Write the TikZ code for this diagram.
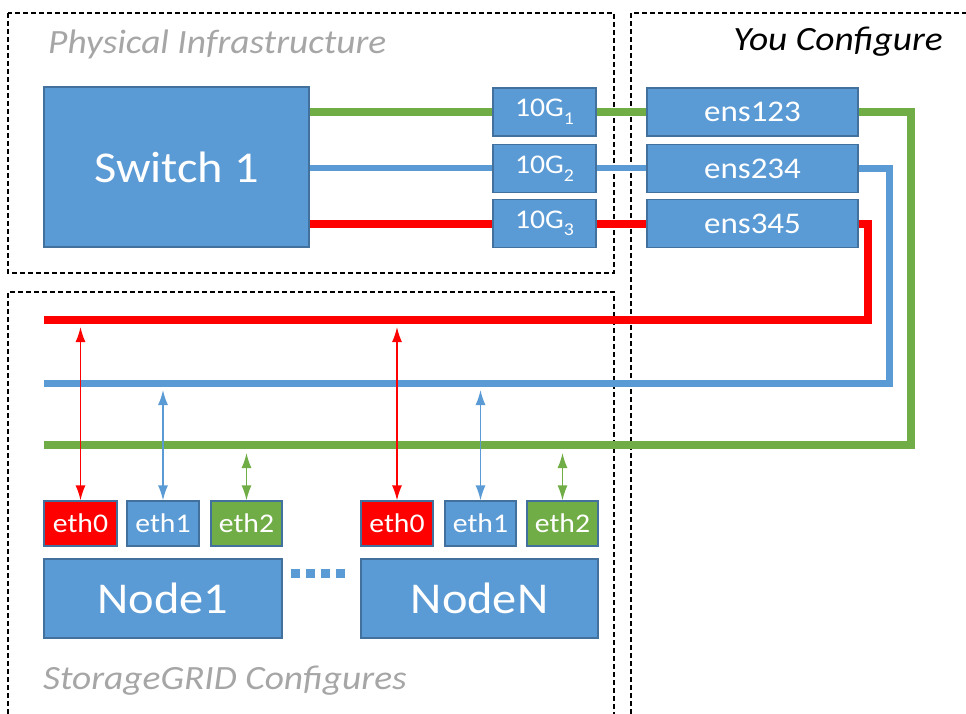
\documentclass[tikz,border=0pt]{standalone}
\usepackage{fontspec}
\setmainfont{Carlito}[FakeStretch=1.1]
\usetikzlibrary{arrows.meta}
\definecolor{boxblue}{HTML}{5B9BD5}
\definecolor{boxedge}{HTML}{41719C}
\definecolor{netgreen}{HTML}{70AD47}
\definecolor{netred}{HTML}{FF0000}
\definecolor{labelgray}{HTML}{A6A6A6}
\newcommand{\fsz}[1]{\fontsize{#1}{#1}\selectfont}
\newcommand{\tenG}[1]{10G\raisebox{-0.28em}{\fsz{18}#1}}
\tikzset{
  box/.style={draw=boxedge, line width=1.2pt, fill=boxblue, text=white, inner sep=0pt, align=center},
  bigbox/.style={box, font=\fsz{44}},
  portbox/.style={box, minimum width=103pt, minimum height=48pt, font=\fsz{27}},
  ensbox/.style={box, minimum width=211pt, minimum height=48pt, font=\fsz{30}},
  ethbox/.style={box, minimum height=45pt, font=\fsz{27}},
  region/.style={draw=black, line width=1.2pt, dash pattern=on 5pt off 3pt},
  gline/.style={draw=netgreen, line width=8pt},
  bline/.style={draw=boxblue, line width=7pt},
  rline/.style={draw=netred, line width=8pt},
  tips/.style={{Latex[length=15pt,width=10pt]}-{Latex[length=15pt,width=10pt]}},
  garrow/.style={draw=netgreen, line width=1.5pt, tips},
  barrow/.style={draw=boxblue, line width=1.5pt, tips},
  rarrow/.style={draw=netred, line width=1.5pt, tips},
  graylabel/.style={text=labelgray, font=\fsz{34}\itshape, inner sep=0pt},
  blacklabel/.style={text=black, font=\fsz{34}\itshape, inner sep=0pt},
}
\begin{document}
\begin{tikzpicture}[x=1pt, y=-1pt]
\useasboundingbox (0,0) rectangle (966,714);
% regions
\draw[region] (8,13) rectangle (614,273);
\draw[region] (8,714) -- (8,292) -- (614,292) -- (614,714);
\draw[region] (631,714) -- (631,13) -- (966,13);
% labels
\node[graylabel, anchor=west] (lphys) at (48,44) {Physical Infrastructure};
\node[blacklabel, anchor=east] (lyou) at (943,42) {You Configure};
\node[graylabel, anchor=west] (lsg) at (43,681) {StorageGRID Configures};
% bus coordinates
\coordinate (gcorner) at (911,445);
\coordinate (gend) at (44,445);
\coordinate (bcorner) at (889,383);
\coordinate (bend) at (44,383);
\coordinate (rcorner) at (868,320);
\coordinate (rend) at (44,320);
% nodes
\node[bigbox, minimum width=265pt, minimum height=160pt] (sw) at (176.5,167) {Switch 1};
\node[portbox] (p1) at (544.5,112) {\tenG{1}};
\node[portbox] (p2) at (544.5,168.5) {\tenG{2}};
\node[portbox] (p3) at (544.5,223.5) {\tenG{3}};
\node[ensbox] (e1) at (752.5,112) {ens123};
\node[ensbox] (e2) at (752.5,168.5) {ens234};
\node[ensbox] (e3) at (752.5,223.5) {ens345};
% links switch -> ports -> ens
\draw[gline] (sw.east |- p1) -- (p1.west);
\draw[gline] (p1.east) -- (e1.west);
\draw[bline, line width=6pt] (sw.east |- p2) -- (p2.west);
\draw[bline, line width=6pt] (p2.east) -- (e2.west);
\draw[rline] (sw.east |- p3) -- (p3.west);
\draw[rline] (p3.east) -- (e3.west);
% buses
\draw[rline, line join=miter] (e3.east) -| (rcorner) -- (rend);
\draw[bline, line join=miter] (e2.east) -| (bcorner) -- (bend);
\draw[gline, line join=miter] (e1.east) -| (gcorner) -- (gend);
% eth boxes
\node[ethbox, fill=netred, minimum width=73pt] (a0) at (80.5,523.5) {eth0};
\node[ethbox, minimum width=72pt] (a1) at (163,523.5) {eth1};
\node[ethbox, fill=netgreen, minimum width=71pt] (a2) at (246.5,523.5) {eth2};
\node[ethbox, fill=netred, minimum width=72pt] (b0) at (397,523.5) {eth0};
\node[ethbox, minimum width=71pt] (b1) at (480.5,523.5) {eth1};
\node[ethbox, fill=netgreen, minimum width=71pt] (b2) at (562.5,523.5) {eth2};
% node boxes
\node[bigbox, minimum width=238pt, minimum height=79pt] (n1) at (163,598.5) {Node1};
\node[bigbox, minimum width=237pt, minimum height=79pt] (nN) at (479.5,598.5) {NodeN};
\draw[draw=boxblue, line width=9pt, dash pattern=on 9pt off 6pt] ([yshift=25pt, xshift=8pt]n1.east) -- ([yshift=25pt, xshift=-10pt]nN.west);
% arrows from buses
\draw[rarrow] (a0.north |- 0,327) -- (a0.north);
\draw[barrow] (a1.north |- 0,390) -- (a1.north);
\draw[garrow] (a2.north |- 0,453) -- (a2.north);
\draw[rarrow] (b0.north |- 0,327) -- (b0.north);
\draw[barrow] (b1.north |- 0,390) -- (b1.north);
\draw[garrow] (b2.north |- 0,453) -- (b2.north);
\end{tikzpicture}
\end{document}
